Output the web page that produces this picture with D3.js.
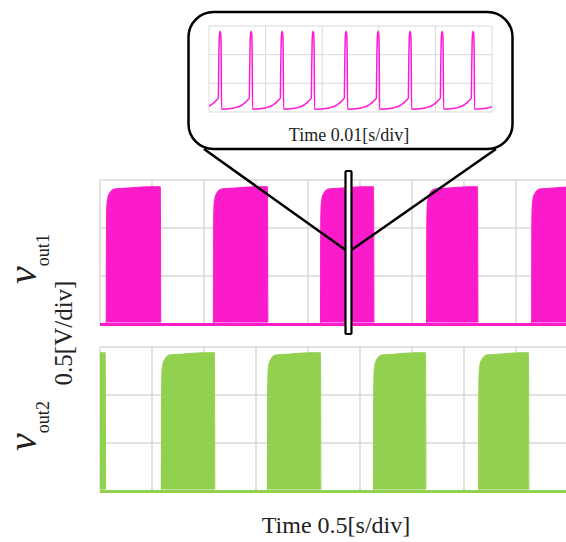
<!DOCTYPE html>
<html><head><meta charset="utf-8">
<script src="https://cdn.jsdelivr.net/npm/d3@7"></script>
<style>body{margin:0;background:#fff}svg{display:block}text{font-family:"Liberation Serif","Times New Roman",serif;fill:#222}</style>
</head><body>
<script>
// ---- data ----
const timeTicks = [0,0.5,1,1.5,2,2.5,3,3.5,4,4.5];          // s (0.5 s/div)
const voltTicks = [0,0.5,1,1.5];                              // V (0.5 V/div)
const out1Rise = [0.06,1.09,2.12,3.14,4.15];
const out1Fall = [0.58,1.61,2.63,3.63,4.66];
const out2Rise = [-0.45,0.59,1.61,2.63,3.64];
const out2Fall = [0.05,1.10,2.12,3.13,4.12];
const out1High = 1.43, out2High = 1.44;
// pulse envelope shape: [seconds after rise, fraction of high level]
const pulseShape = [[0,0.01],[0.002,0.70],[0.006,0.86],[0.015,0.92],[0.03,0.95],[0.05,0.972],[0.08,0.984],[0.2,0.99],[0.4,1.0]];
const pulseLow = 0.02, baseLevel = -0.006;
// inset (0.01 s/div)
const insetTicks = [0,0.01,0.02,0.03,0.04,0.05];
const insetVTicks = [0,0.5,1,1.5];
const insetPeaks = [0.00194,0.00742,0.0129,0.01837,0.0242,0.02986,0.03551,0.04117,0.04664,0.0522];
// spike shape: [seconds relative to peak, volts]
const spikeShape = [[-0.0052,0.05],[-0.004,0.055],[-0.003,0.07],[-0.002,0.1],[-0.0012,0.15],[-0.0006,0.21],[-0.0003,0.24],[-0.00022,0.8],[-0.00012,1.3],[0,1.41],[0.00012,1.37],[0.0002,1.1],[0.00028,0.05]];

const W=566,H=542;
const svg=d3.select("body").append("svg").attr("width",W).attr("height",H);
svg.append("rect").attr("width",W).attr("height",H).attr("fill","#fff");
const gridCol="#d9d9d9";
const x=d3.scaleLinear().domain([0,4.5]).range([100,568]);

function panel(top,bottom,rise,fall,high,color,id){
  const y=d3.scaleLinear().domain([0,1.5]).range([bottom,top]);
  const g=svg.append("g");
  g.selectAll(".vg").data(timeTicks).join("line").attr("x1",d=>x(d)).attr("x2",d=>x(d)).attr("y1",top).attr("y2",bottom).attr("stroke",gridCol).attr("stroke-width",1.5);
  g.selectAll(".hg").data(voltTicks).join("line").attr("x1",100).attr("x2",W).attr("y1",d=>y(d)).attr("y2",d=>y(d)).attr("stroke",gridCol).attr("stroke-width",1.5);
  svg.append("clipPath").attr("id",id).append("rect").attr("x",100).attr("y",top-5).attr("width",W-100).attr("height",bottom-top+10);
  const tg=svg.append("g").attr("clip-path",`url(#${id})`);
  const area=d3.area().x(d=>x(d.t)).y0(d=>y(d.lo)).y1(d=>y(d.hi)).curve(d3.curveMonotoneX);
  rise.forEach((r,i)=>{
    const f=fall[i];
    const pts=pulseShape.filter(p=>r+p[0]<f-0.001).map(p=>({t:r+p[0],lo:pulseLow,hi:p[1]*high}));
    pts.push({t:f,lo:pulseLow,hi:high});
    pts.push({t:f+0.004,lo:pulseLow,hi:pulseLow});
    tg.append("path").attr("d",area(pts)).attr("fill",color).attr("stroke",color).attr("stroke-width",1);
  });
  tg.append("line").attr("x1",100).attr("x2",W).attr("y1",y(baseLevel)).attr("y2",y(baseLevel)).attr("stroke",color).attr("stroke-width",3);
}
const mag="#fc1bcb", grn="#92d050";
panel(180,324,out1Rise,out1Fall,out1High,mag,"c1");
panel(347,491,out2Rise,out2Fall,out2High,grn,"c2");

// labels
function vlabel(cx,cy,sub){
  const t=svg.append("text").attr("transform",`translate(${cx},${cy}) rotate(-90)`).attr("text-anchor","middle");
  t.append("tspan").attr("font-style","italic").attr("font-size",40).text("v");
  t.append("tspan").attr("font-size",18).attr("dy",13).text(sub);
}
vlabel(36,259,"out1");
vlabel(36,426,"out2");
svg.append("text").attr("transform","translate(72,333) rotate(-90)").attr("text-anchor","middle").attr("font-size",25).text("0.5[V/div]");
svg.append("text").attr("x",336).attr("y",533).attr("text-anchor","middle").attr("font-size",24).text("Time 0.5[s/div]");

// callout
const mid=251;
svg.append("line").attr("x1",204).attr("y1",149).attr("x2",347).attr("y2",mid).attr("stroke","#000").attr("stroke-width",2.5);
svg.append("line").attr("x1",496).attr("y1",149).attr("x2",350).attr("y2",mid).attr("stroke","#000").attr("stroke-width",2.5);
svg.append("rect").attr("x",345.5).attr("y",171).attr("width",6).attr("height",163).attr("rx",1).attr("fill","#fff").attr("stroke","#000").attr("stroke-width",2.2);
svg.append("rect").attr("x",188.5).attr("y",12).attr("width",324).attr("height",137).attr("rx",25).attr("fill","#fff").attr("stroke","#000").attr("stroke-width",2.5);

// inset plot
const ix=d3.scaleLinear().domain([0,0.05]).range([209,492]);
const iy=d3.scaleLinear().domain([0,1.5]).range([112,26]);
const ig=svg.append("g");
ig.selectAll(".v").data(insetTicks).join("line").attr("x1",d=>ix(d)).attr("x2",d=>ix(d)).attr("y1",26).attr("y2",112).attr("stroke",gridCol).attr("stroke-width",1);
ig.selectAll(".h").data(insetVTicks).join("line").attr("x1",209).attr("x2",492).attr("y1",d=>iy(d)).attr("y2",d=>iy(d)).attr("stroke",gridCol).attr("stroke-width",1);
svg.append("clipPath").attr("id","ci").append("rect").attr("x",209).attr("y",20).attr("width",283).attr("height",96);
let spts=[];
insetPeaks.forEach((p,i)=>{
  const prev=i>0?insetPeaks[i-1]+0.00029:-1;
  spikeShape.forEach(s=>{const t=p+s[0]; if(t>prev) spts.push([t,s[1]]);});
});
spts.sort((a,b)=>a[0]-b[0]);
const iline=d3.line().x(d=>ix(d[0])).y(d=>iy(d[1])).curve(d3.curveMonotoneX);
svg.append("g").attr("clip-path","url(#ci)").append("path").attr("d",iline(spts)).attr("fill","none").attr("stroke","#ff1ad6").attr("stroke-width",1.5);
svg.append("text").attr("x",349).attr("y",141).attr("text-anchor","middle").attr("font-size",18).text("Time 0.01[s/div]");
</script>
</body></html>
